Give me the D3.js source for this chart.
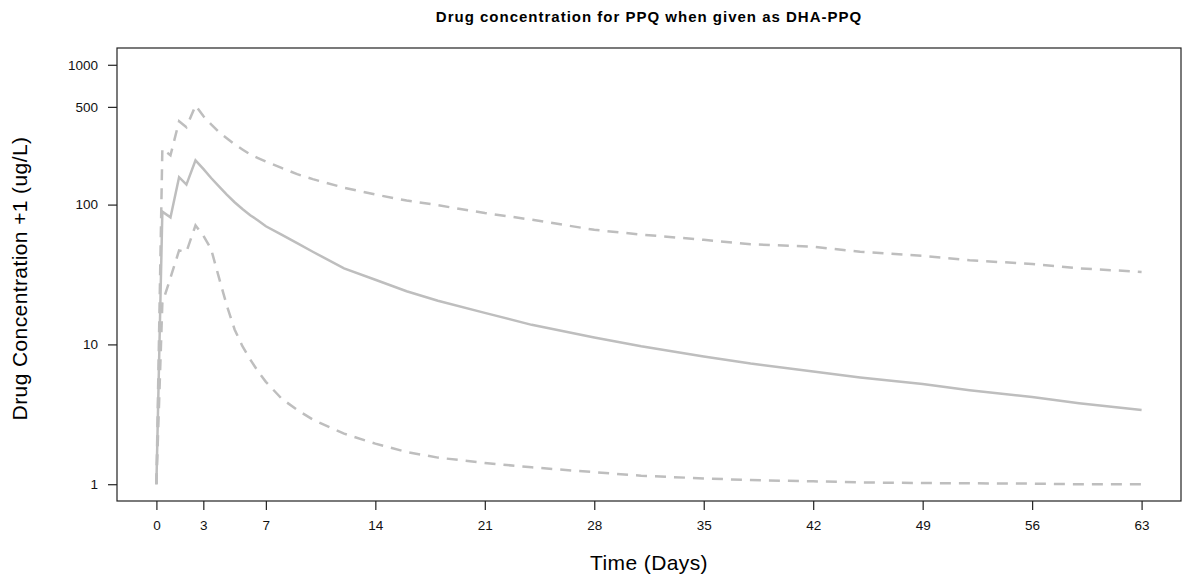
<!DOCTYPE html>
<html>
<head>
<meta charset="utf-8">
<script src="https://cdn.jsdelivr.net/npm/d3@7"></script>
<style>
  body { margin: 0; background: #fff; }
  svg { display: block; font-family: "Liberation Sans", Arial, sans-serif; }
</style>
</head>
<body>
<div id="chart"></div>
<script>
// time points (days) shared by all three series
const days = [0, 0.38, 0.9, 1.45, 1.92, 2.5, 3, 3.5, 4, 4.5, 5, 5.5, 6, 6.5, 7, 8, 9, 10, 12, 14, 16, 18, 21, 24, 28, 31, 35, 38, 42, 45, 49, 52, 56, 59, 63];
// median concentration +1
const median = [1, 89, 81, 157, 139, 207, 180, 155, 135, 118, 104, 93, 84, 77, 70, 61, 53, 46, 35, 29, 24, 20.5, 16.8, 13.8, 11.2, 9.7, 8.2, 7.3, 6.4, 5.8, 5.2, 4.7, 4.2, 3.8, 3.4];
// upper and lower bounds
const upper = [1, 251, 225, 395, 358, 511, 430, 375, 330, 298, 270, 248, 228, 215, 203, 183, 165, 152, 132, 118, 107, 99, 87, 78, 66, 61, 56, 52, 50, 46, 43, 40, 37.6, 35, 33];
const lower = [1, 19.7, 30, 47, 46, 71, 60, 48, 30, 19, 12.8, 9.7, 7.8, 6.4, 5.4, 4.1, 3.4, 2.9, 2.3, 1.95, 1.7, 1.55, 1.42, 1.32, 1.22, 1.15, 1.1, 1.07, 1.05, 1.03, 1.02, 1.015, 1.01, 1.0, 1.0];

const xTicks = [0, 3, 7, 14, 21, 28, 35, 42, 49, 56, 63];
const yTicks = [1, 10, 100, 500, 1000];

const width = 1182, height = 580;
const box = {left: 117, right: 1181, top: 48, bottom: 501};

const svg = d3.select("#chart").append("svg")
    .attr("width", width).attr("height", height);

// R style: 4% padding around the data range
const xPad = 63 * 0.04;
const x = d3.scaleLinear().domain([0 - xPad, 63 + xPad]).range([box.left, box.right]);
const yPad = 3 * 0.04;
const y = d3.scaleLog().domain([Math.pow(10, -yPad), Math.pow(10, 3 + yPad)]).range([box.bottom, box.top]);

const line = d3.line().x(d => x(d[0])).y(d => y(d[1]));

const series = [
    {vals: upper, dash: "11,8"},
    {vals: lower, dash: "11,8"},
    {vals: median, dash: null}
];

series.forEach(s => {
    svg.append("path")
        .datum(days.map((t, i) => [t, s.vals[i]]))
        .attr("d", line)
        .attr("fill", "none")
        .attr("stroke", "#bebebe")
        .attr("stroke-width", 2.5)
        .attr("stroke-dasharray", s.dash);
});

// box
svg.append("rect")
    .attr("x", box.left).attr("y", box.top)
    .attr("width", box.right - box.left).attr("height", box.bottom - box.top)
    .attr("fill", "none").attr("stroke", "#222").attr("stroke-width", 1.2);

const xAxis = svg.append("g")
    .attr("transform", `translate(0,${box.bottom})`)
    .call(d3.axisBottom(x).tickValues(xTicks).tickFormat(d3.format("d")).tickSize(9).tickPadding(10));

const yAxis = svg.append("g")
    .attr("transform", `translate(${box.left},0)`)
    .call(d3.axisLeft(y).tickValues(yTicks).tickFormat(d3.format("d")).tickSize(9).tickPadding(10));

[xAxis, yAxis].forEach(a => {
    a.select(".domain").remove();
    a.selectAll(".tick line").attr("stroke", "#222").attr("stroke-width", 1.2);
    a.selectAll(".tick text").attr("fill", "#111").style("font-size", "13.5px");
});

svg.append("text")
    .attr("x", (box.left + box.right) / 2).attr("y", 22)
    .attr("text-anchor", "middle")
    .style("font-size", "15px").style("font-weight", "bold")
    .style("letter-spacing", "1px")
    .text("Drug concentration for PPQ when given as DHA-PPQ");

svg.append("text")
    .attr("x", (box.left + box.right) / 2).attr("y", 570)
    .attr("text-anchor", "middle")
    .style("font-size", "21px").style("letter-spacing", "0.4px")
    .text("Time (Days)");

svg.append("text")
    .attr("transform", `translate(27,${(box.top + box.bottom) / 2 + 4}) rotate(-90)`)
    .attr("text-anchor", "middle")
    .style("font-size", "21px").style("letter-spacing", "0.4px")
    .text("Drug Concentration +1 (ug/L)");
</script>
</body>
</html>
